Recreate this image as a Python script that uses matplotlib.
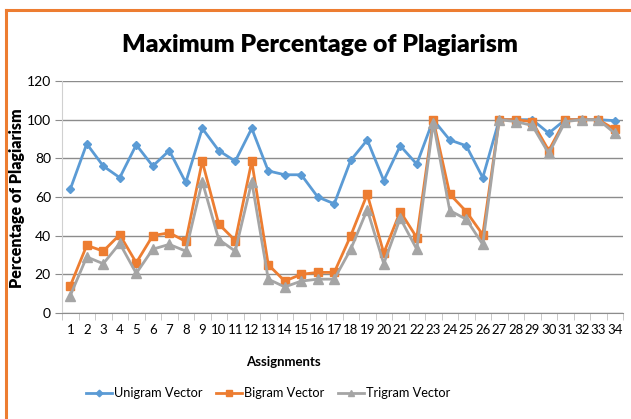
import matplotlib
matplotlib.use("Agg")
import matplotlib.pyplot as plt
from matplotlib.lines import Line2D

assignments = [str(i) for i in range(1, 35)]
unigram = [64, 87.5, 76, 70, 87, 76, 84, 67.5, 95.5, 84, 78.5, 95.5, 73.5, 71.5, 71.5, 60, 56.5,
           79, 89.5, 68.5, 86.5, 77, 100, 89.5, 86.5, 70, 100, 100, 100, 93, 100, 100, 100, 99.5]
bigram = [14, 35, 32, 40.5, 26, 40, 41.5, 37, 78.5, 46, 37.5, 78.5, 25, 16.5, 20, 21, 21,
          40, 61.5, 31, 52.5, 39, 100, 61.5, 52.5, 40.5, 100, 100, 99, 84, 100, 100, 100, 95]
trigram = [9, 29, 25.5, 36, 20.5, 33, 35.5, 32, 68, 38, 32, 68, 17.5, 13.5, 16.5, 17.5, 17.5,
           33, 53.5, 25.5, 49, 33, 98.5, 53, 48.5, 35.5, 100, 99, 97, 82.5, 99, 100, 100, 93]
yticks = [0, 20, 40, 60, 80, 100, 120]

fig = plt.figure(figsize=(6.31, 4.19), dpi=100)
ax = fig.add_axes([62/631, 1-313/419, 561/631, 232/419])

x = list(range(len(assignments)))
ax.plot(x, unigram, color="#5B9BD5", marker="D", markersize=4.5, lw=2, label="Unigram Vector", zorder=3)
ax.plot(x, bigram, color="#ED7D31", marker="s", markersize=6, lw=2, label="Bigram Vector", zorder=4)
ax.plot(x, trigram, color="#A5A5A5", marker="^", markersize=6.5, lw=2, label="Trigram Vector", zorder=5)

ax.set_xlim(-0.5, len(assignments) - 0.5)
ax.set_ylim(0, 120)
ax.set_yticks(yticks)
ax.set_yticklabels([str(v) for v in yticks], fontsize=10, family="Lato")
ax.yaxis.grid(True, color="#8C8C8C", lw=1)
ax.set_axisbelow(True)
ax.tick_params(axis="y", length=5, color="#8C8C8C", pad=3)
ax.set_xticks(x)
ax.set_xticklabels(assignments, fontsize=9.5, family="Lato")
ax.set_xticks([i + 0.5 for i in range(-1, len(assignments))], minor=True)
ax.tick_params(axis="x", which="major", length=0, pad=8)
ax.tick_params(axis="x", which="minor", length=5, color="#BFBFBF")
for s in ["top", "right"]:
    ax.spines[s].set_visible(False)
ax.spines["left"].set_color("#D0D0D0")
ax.spines["bottom"].set_color("#8C8C8C")

fig.text(320/631, 1-45/419, "Maximum Percentage of Plagiarism", ha="center", va="center",
         fontsize=17.8, fontweight="heavy", family="Lato")
fig.text(17/631, 1-198/419, "Percentage of Plagiarism", ha="center", va="center", rotation=90,
         fontsize=11.5, fontweight="heavy", family="Lato")
fig.text(283/631, 1-362/419, "Assignments", ha="center", va="center",
         fontsize=9.5, fontweight="bold", family="Lato")

handles, labels = ax.get_legend_handles_labels()
fig.legend(handles, labels, loc="center", bbox_to_anchor=(268/631, 1-393/419), ncol=3,
           frameon=False, prop={"family": "Lato", "size": 9.2}, handlelength=2.0,
           handletextpad=0.15, columnspacing=1.1, markerscale=0.75)

fig.add_artist(Line2D([6/631, 6/631], [0, 1-10/419], color="#ED7D31", lw=2.2, transform=fig.transFigure))
fig.add_artist(Line2D([6/631, 1], [1-10/419, 1-10/419], color="#ED7D31", lw=2.2, transform=fig.transFigure))

fig.savefig("out.png", dpi=100)
